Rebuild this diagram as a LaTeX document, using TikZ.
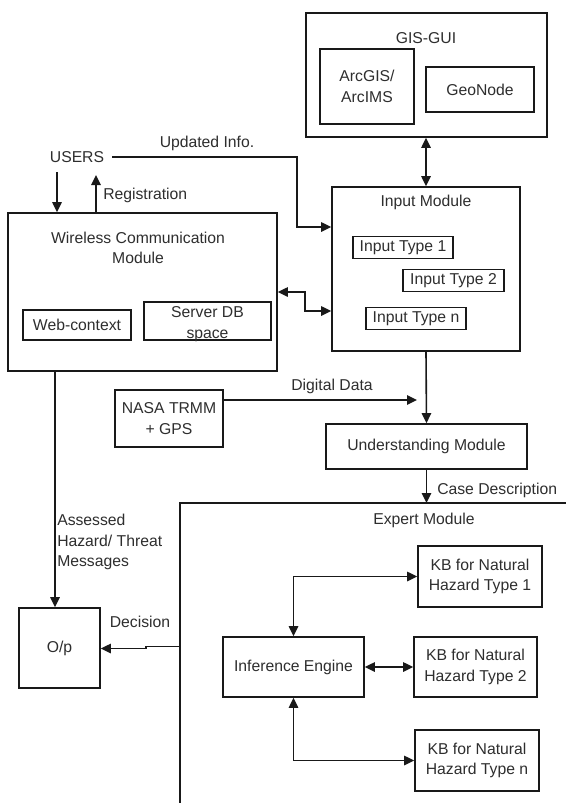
\documentclass[tikz,border=0pt]{standalone}
\usepackage{fontspec}
\setmainfont{Liberation Sans}
\usetikzlibrary{arrows.meta}
\begin{document}
\begin{tikzpicture}[x=0.75pt,y=-0.75pt,
  every node/.style={font=\fontsize{11.8}{15.5}\selectfont, text=black!82},
  wh/.style 2 args={minimum width=#1*0.75pt, minimum height=#2*0.75pt},
  box/.style={draw=black!90, line width=1.2pt, inner sep=0pt, align=center},
  lbl/.style={inner sep=0pt},
  conn/.style={draw=black!90, line width=1.2pt},
  arr/.style={conn, -{Triangle[length=7.5pt,width=7pt]}},
  barr/.style={conn, {Triangle[length=7.5pt,width=7pt]}-{Triangle[length=7.5pt,width=7pt]}},
]
\fill[white] (0,0) rectangle (566,803);
\clip (0,0) rectangle (566,803);

% GIS-GUI
\node[box, wh={241}{124}] (gis) at (426.5,75) {};
\node[lbl] (gislbl) at (426,38) {GIS-GUI};
\node[box, wh={94}{75}] (arc) at (367,86.5) {ArcGIS/\\ArcIMS};
\node[box, wh={108}{45}] (geo) at (480,89.5) {GeoNode};

% Input module
\node[box, wh={188}{164}] (inp) at (426,269) {};
\node[lbl] (inplbl) at (426,202) {Input Module};
\node[box, wh={100}{22}] (it1) at (403,247.5) {Input Type 1};
\node[box, wh={101}{22}] (it2) at (453.5,280.5) {Input Type 2};
\node[box, wh={100}{22}] (itn) at (416,318.5) {Input Type n};

% Users and wireless module
\node[lbl] (users) at (77,157) {USERS};
\node[box, wh={269}{158}] (wl) at (142.5,292) {};
\node[lbl, align=center] (wllbl) at (138,248) {Wireless Communication\\Module};
\node[box, wh={108}{30}] (web) at (77,325) {Web-context};
\node[box, wh={127}{38}] (srv) at (207.5,321) {};
\node[lbl, align=center] (srvlbl) at (207.5,324) {Server DB\\space};

% NASA, understanding
\node[box, wh={108}{57}] (nasa) at (169,418.5) {NASA TRMM\\+ GPS};
\node[box, wh={201}{45}] (und) at (426.5,446.5) {Understanding Module};

% Expert module (extends past the page)
\coordinate (ex) at (180,503);
\draw[conn] (620,503) -- (ex) -- (180,840);
\node[lbl] (exlbl) at (424,520) {Expert Module};
\node[box, wh={141}{60}] (inf) at (293.5,667) {Inference Engine};
\node[box, wh={124}{61}] (kb1) at (480,576.5) {KB for Natural\\Hazard Type 1};
\node[box, wh={123}{60}] (kb2) at (475.5,667) {KB for Natural\\Hazard Type 2};
\node[box, wh={124}{61}] (kbn) at (477,760.5) {KB for Natural\\Hazard Type n};

% Output
\node[box, wh={81}{80}] (op) at (59.5,648) {O/p};

% Connectors
\draw[barr] (inp.north |- gis.south) -- (inp.north);

\coordinate (ui) at (297,227);
\draw[arr] ([xshift=6pt]users.east) -| (ui) -- (ui -| inp.west);
\node[lbl] (updlbl) at (207,143) {Updated Info.};

\coordinate (ud) at (57,172);
\draw[arr] (ud) -- (ud |- wl.north);
\coordinate (ru) at (96,175);
\draw[arr] (ru |- wl.north) -- (ru);
\node[lbl, anchor=west] (reglbl) at (103,195) {Registration};

\coordinate (wj) at (305,311);
\draw[barr] (wl.east) -| (wj) -- (wj -| inp.west);

\draw[arr] (inp.south) -- (und.north);

\coordinate (dd) at (417,400);
\draw[arr] (dd -| nasa.east) -- (dd);
\node[lbl] (ddlbl) at (332,386) {Digital Data};

\draw[arr] (und.south) -- (und.south |- ex);
\node[lbl, anchor=west] (cdlbl) at (437,490) {Case Description};

\coordinate (al) at (55,400);
\draw[arr] (al |- wl.south) -- (al |- op.north);
\node[lbl, anchor=west, align=left] (aslbl) at (57,542) {Assessed\\Hazard/ Threat\\Messages};

\coordinate (dj) at (146,646.5);
\draw[arr] (dj -| ex) -- (dj) -- ([yshift=-1.5pt]dj) -- ([yshift=-1.5pt]dj -| op.east);
\node[lbl] (declbl) at (140,622) {Decision};

\draw[barr] (inf.north) |- (kb1.west);
\draw[barr] (inf.east) -- (kb2.west);
\draw[barr] (inf.south) |- (kbn.west);
\end{tikzpicture}
\end{document}
